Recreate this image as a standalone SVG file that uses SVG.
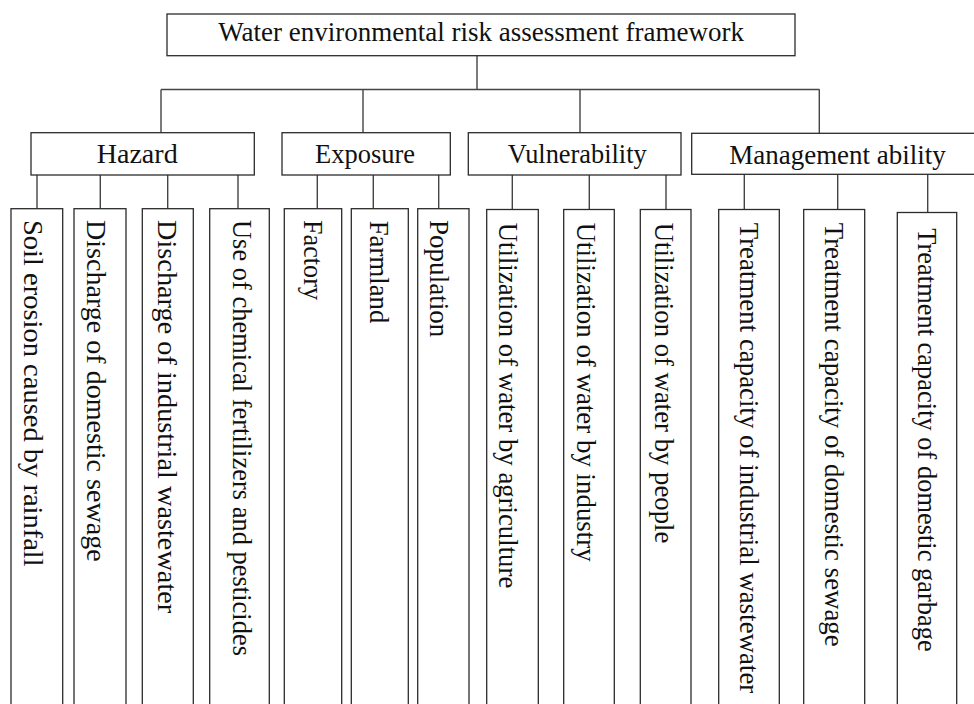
<svg xmlns="http://www.w3.org/2000/svg" width="974" height="704" viewBox="0 0 974 704">
<style>
.box{fill:#fff;stroke:#2b2b2b;stroke-width:1.3}
.ln{fill:none;stroke:#444;stroke-width:1.4}
text{font-family:"Liberation Serif","Times New Roman",serif;font-size:26.5px;fill:#111}
</style>
<rect width="974" height="704" fill="#fff"/>
<g id="connectors">
<path class="ln" d="M477,55.7V89.5M161,89.5H819.5M161,89.5V132.7M363,89.5V132.7M580,89.5V132.7M819.3,89.5V133.3"/>
<path class="ln" d="M37,175V208.7M100.3,175V208.7M167.7,175V208.7M238,175V208.7"/>
<path class="ln" d="M317.3,175V208.7M373.3,175V208.7M438.7,175V208.7"/>
<path class="ln" d="M512.3,175V209.5M589.3,175V209.5M666,175V209.5"/>
<path class="ln" d="M744.3,174.3V209.5M837.7,174.3V209.5M927.7,174.3V212.5"/>
</g>
<g id="root">
<rect class="box" x="167" y="14" width="628" height="41.7"/>
<text x="218.3" y="40.7" textLength="525.7" lengthAdjust="spacingAndGlyphs">Water environmental risk assessment framework</text>
</g>
<g id="hazard">
<rect class="box" x="31" y="132.7" width="223.3" height="42.3"/>
<text x="96.7" y="162.7" textLength="81" lengthAdjust="spacingAndGlyphs">Hazard</text>
</g>
<g id="exposure">
<rect class="box" x="282" y="132.7" width="168.3" height="42.3"/>
<text x="315" y="162.7" textLength="100" lengthAdjust="spacingAndGlyphs">Exposure</text>
</g>
<g id="vulnerability">
<rect class="box" x="468.3" y="132.7" width="212.7" height="42.3"/>
<text x="507.7" y="162.7" textLength="139" lengthAdjust="spacingAndGlyphs">Vulnerability</text>
</g>
<g id="management">
<rect class="box" x="691.7" y="133.3" width="295" height="41"/>
<text x="729.3" y="163.5" textLength="216.4" lengthAdjust="spacingAndGlyphs">Management ability</text>
</g>
<g id="h1"><rect class="box" x="11" y="208.7" width="51.7" height="510"/>
<text transform="translate(24,220) rotate(90)" textLength="346.7" lengthAdjust="spacingAndGlyphs">Soil erosion caused by rainfall</text></g>
<g id="h2"><rect class="box" x="74" y="208.7" width="52" height="510"/>
<text transform="translate(87.3,220) rotate(90)" textLength="341.7" lengthAdjust="spacingAndGlyphs">Discharge of domestic sewage</text></g>
<g id="h3"><rect class="box" x="142.3" y="208.7" width="51" height="510"/>
<text transform="translate(158.3,220) rotate(90)" textLength="393.3" lengthAdjust="spacingAndGlyphs">Discharge of industrial wastewater</text></g>
<g id="h4"><rect class="box" x="209.7" y="208.7" width="59.6" height="510"/>
<text transform="translate(233.3,220) rotate(90)" textLength="436" lengthAdjust="spacingAndGlyphs">Use of chemical fertilizers and pesticides</text></g>
<g id="e1"><rect class="box" x="284.3" y="208.7" width="57.4" height="510"/>
<text transform="translate(304,220) rotate(90)" textLength="80" lengthAdjust="spacingAndGlyphs">Factory</text></g>
<g id="e2"><rect class="box" x="351.3" y="208.7" width="57" height="510"/>
<text transform="translate(370,220.7) rotate(90)" textLength="102.6" lengthAdjust="spacingAndGlyphs">Farmland</text></g>
<g id="e3"><rect class="box" x="417.7" y="208.7" width="51.3" height="510"/>
<text transform="translate(430,220) rotate(90)" textLength="117.3" lengthAdjust="spacingAndGlyphs">Population</text></g>
<g id="v1"><rect class="box" x="486.7" y="209.5" width="51.6" height="510"/>
<text transform="translate(499.3,222.7) rotate(90)" textLength="365.6" lengthAdjust="spacingAndGlyphs">Utilization of water by agriculture</text></g>
<g id="v2"><rect class="box" x="563.7" y="209.5" width="50.6" height="510"/>
<text transform="translate(576.7,222.7) rotate(90)" textLength="339" lengthAdjust="spacingAndGlyphs">Utilization of water by industry</text></g>
<g id="v3"><rect class="box" x="640.3" y="209.5" width="50.7" height="510"/>
<text transform="translate(655,222.7) rotate(90)" textLength="320.6" lengthAdjust="spacingAndGlyphs">Utilization of water by people</text></g>
<g id="m1"><rect class="box" x="718.7" y="209.5" width="60.6" height="510"/>
<text transform="translate(740,222.7) rotate(90)" textLength="470.6" lengthAdjust="spacingAndGlyphs">Treatment capacity of industrial wastewater</text></g>
<g id="m2"><rect class="box" x="803.7" y="209.5" width="61" height="510"/>
<text transform="translate(825,222.7) rotate(90)" textLength="424" lengthAdjust="spacingAndGlyphs">Treatment capacity of domestic  sewage</text></g>
<g id="m3"><rect class="box" x="897.3" y="212.5" width="59.4" height="510"/>
<text transform="translate(918.3,228.3) rotate(90)" textLength="423.4" lengthAdjust="spacingAndGlyphs">Treatment capacity of domestic garbage</text></g>
</svg>
